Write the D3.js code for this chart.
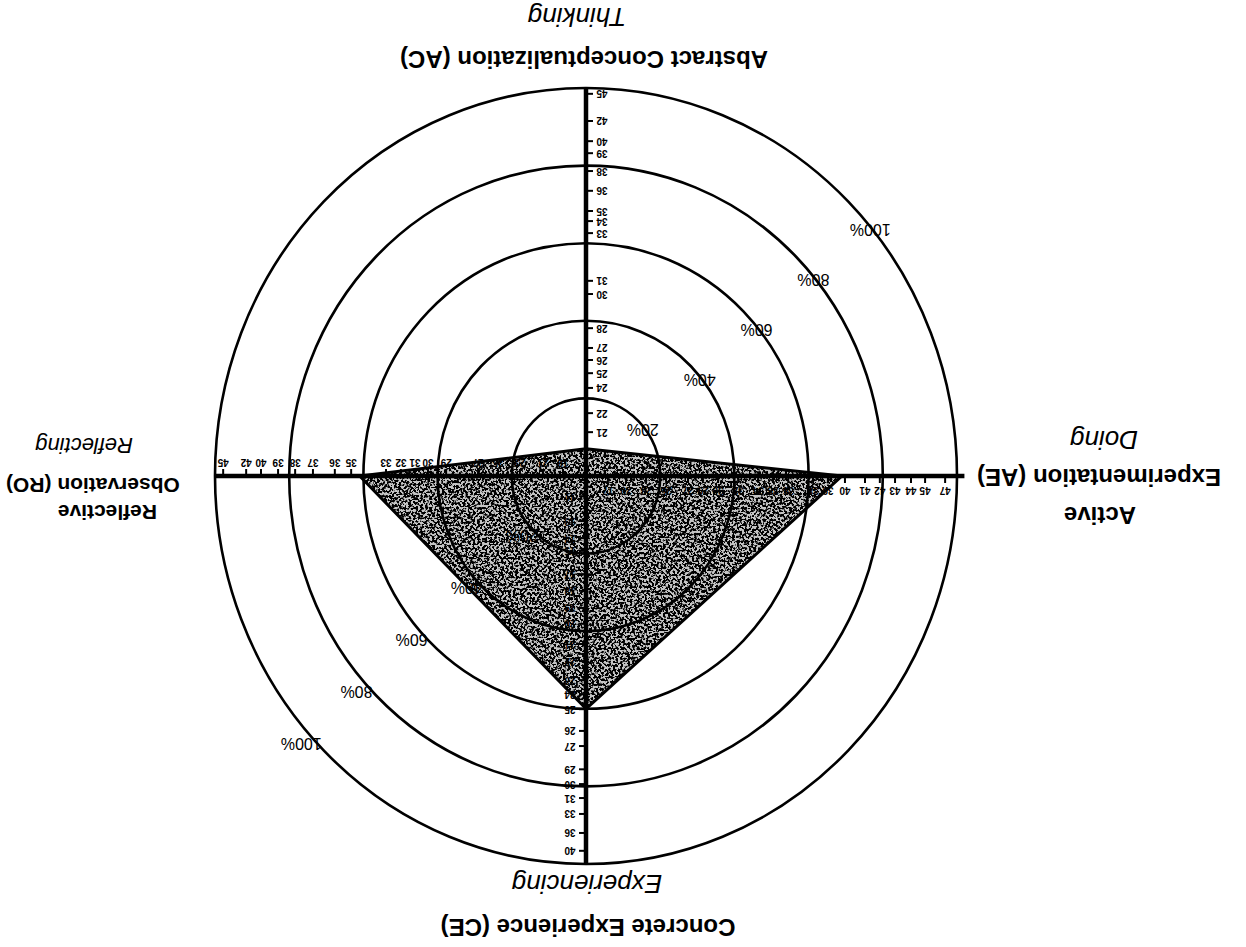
<!DOCTYPE html>
<html><head><meta charset="utf-8">
<script src="https://cdn.jsdelivr.net/npm/d3@7"></script>
<style>
html,body{margin:0;padding:0;background:#fff;}
svg{display:block;}
text{font-family:"Liberation Sans",Arial,sans-serif;fill:#000;}
</style></head>
<body>
<svg id="chart" width="1246" height="947"></svg>
<script>
// ---- data (percentile rings, axis tick scores with their percentile rank, learner profile) ----
const ringPcts = [20, 40, 60, 80, 100];
const ringLabels = ["20%", "40%", "60%", "80%", "100%"];

const axisNames = ["CE", "RO", "AC", "AE"];
const axisTitles = ["Concrete Experience (CE)", "Observation (RO)", "Abstract Conceptualization (AC)", "Experimentation (AE)"];
const axisModes = ["Experiencing", "Reflecting", "Thinking", "Doing"];

const ceTickVals = [11,13,14,15,17,18,19,20,21,22,23,24,25,26,27,29,30,31,33,36,40];
const ceTickPct  = [5.2,11.6,16.0,19.3,25.3,29.6,34.0,38.1,43.3,47.7,52.6,56.2,60.1,65.7,69.6,75.6,79.4,83.0,87.1,92.0,96.6];
const roTickVals = [18,21,23,25,27,29,30,31,32,33,35,36,37,38,39,40,42,45];
const roTickPct  = [6.2,11.6,17.8,23.7,29.1,37.7,42.6,46.1,49.9,53.9,63.3,67.7,73.6,78.4,83.0,87.6,91.6,97.8];
const acTickVals = [21,22,24,25,26,27,28,30,31,33,34,35,36,38,39,40,42,45];
const acTickPct  = [11.3,16.2,22.7,26.5,29.9,33.0,38.1,46.9,50.3,62.6,65.7,68.3,73.5,78.6,83.2,86.3,91.5,98.5];
const aeTickVals = [17,20,23,25,27,29,30,32,34,35,36,38,39,40,41,42,43,44,45,47];
const aeTickPct  = [5.9,10.8,16.2,21.6,27.5,31.5,35.6,41.0,46.4,50.4,54.5,61.2,65.2,69.8,75.2,79.2,83.3,87.6,91.4,96.8];

const profilePct = [60, 61, 7, 69]; // CE, RO, AC, AE

// ---- layout ----
const W = 1246, H = 947;
const cx = 660, cy = 471;
const sx = d3.scaleLinear().domain([0, 100]).range([0, 371]);
const sy = d3.scaleLinear().domain([0, 100]).range([0, 388]);
const dirs = {CE: [0, -1], RO: [1, 0], AC: [0, 1], AE: [-1, 0]};
const pt = (ax, p) => [cx + dirs[ax][0] * sx(p), cy + dirs[ax][1] * sy(p)];

const svg = d3.select("#chart");
svg.append("rect").attr("width", W).attr("height", H).attr("fill", "#fff");

const defs = svg.append("defs");
const f = defs.append("filter").attr("id", "speckle").attr("x", 0).attr("y", 0).attr("width", 1).attr("height", 1);
f.append("feTurbulence").attr("type", "fractalNoise").attr("baseFrequency", 0.42).attr("numOctaves", 2).attr("seed", 7).attr("result", "t");
f.append("feColorMatrix").attr("in", "t").attr("type", "matrix")
  .attr("values", "0 0 0 0 0  0 0 0 0 0  0 0 0 0 0  12 0 0 0 -5.4").attr("result", "a");
f.append("feComposite").attr("in", "a").attr("in2", "SourceGraphic").attr("operator", "in");

// whole chart is drawn upright, then turned upside down like the scan
const g = svg.append("g").attr("transform", `rotate(180, ${W / 2}, ${H / 2})`);

// profile polygon
const polyPts = axisNames.map((a, i) => pt(a, profilePct[i]));
const line = d3.line().curve(d3.curveLinearClosed);
g.append("path").attr("d", line(polyPts)).attr("fill", "#c4c4c4");
g.append("path").attr("d", line(polyPts)).attr("fill", "#000").attr("filter", "url(#speckle)");

// rings
g.selectAll("ellipse.ring").data(ringPcts).join("ellipse").attr("class", "ring")
  .attr("cx", cx).attr("cy", cy).attr("rx", d => sx(d)).attr("ry", d => sy(d))
  .attr("fill", "none").attr("stroke", "#000").attr("stroke-width", 2.6);

g.append("path").attr("d", line(polyPts)).attr("fill", "none").attr("stroke", "#000").attr("stroke-width", 3).attr("stroke-linejoin", "round");

// axes
g.append("line").attr("x1", cx - sx(102)).attr("x2", cx + sx(100)).attr("y1", cy).attr("y2", cy)
  .attr("stroke", "#000").attr("stroke-width", 4.5);
g.append("line").attr("x1", cx).attr("x2", cx).attr("y1", cy - sy(100)).attr("y2", cy + sy(100))
  .attr("stroke", "#000").attr("stroke-width", 4.5);

// ticks
const tickSets = [
  {ax: "CE", vals: ceTickVals, pct: ceTickPct, side: [1, 0]},
  {ax: "RO", vals: roTickVals, pct: roTickPct, side: [0, 1]},
  {ax: "AC", vals: acTickVals, pct: acTickPct, side: [-1, 0]},
  {ax: "AE", vals: aeTickVals, pct: aeTickPct, side: [0, -1]}
];
tickSets.forEach(ts => {
  const data = ts.vals.map((v, i) => ({v, p: ts.pct[i]}));
  const tg = g.append("g");
  tg.selectAll("line").data(data).join("line")
    .attr("x1", d => pt(ts.ax, d.p)[0]).attr("y1", d => pt(ts.ax, d.p)[1])
    .attr("x2", d => pt(ts.ax, d.p)[0] + ts.side[0] * 7).attr("y2", d => pt(ts.ax, d.p)[1] + ts.side[1] * 7)
    .attr("stroke", "#000").attr("stroke-width", 2);
  tg.selectAll("text").data(data).join("text")
    .attr("x", d => pt(ts.ax, d.p)[0] + ts.side[0] * 16)
    .attr("y", d => pt(ts.ax, d.p)[1] + ts.side[1] * 14)
    .attr("text-anchor", "middle").attr("dominant-baseline", "central")
    .attr("font-size", 10).attr("font-weight", "bold")
    .text(d => d.v);
});

// ring percentage labels (two diagonals)
const angA = 40 * Math.PI / 180, angB = 42 * Math.PI / 180;
g.selectAll("text.pa").data(ringPcts).join("text").attr("class", "pa")
  .attr("x", d => cx - sx(d) * Math.cos(angA))
  .attr("y", d => cy + sy(d) * Math.sin(angA) - 3)
  .attr("text-anchor", "middle").attr("dominant-baseline", "central").attr("font-size", 16)
  .text((d, i) => ringLabels[i]);
g.selectAll("text.pb").data(ringPcts).join("text").attr("class", "pb")
  .attr("x", d => cx + sx(d) * Math.cos(angB) + 9)
  .attr("y", d => cy - sy(d) * Math.sin(angB) - 8)
  .attr("text-anchor", "middle").attr("dominant-baseline", "central").attr("font-size", 16)
  .attr("fill", (d) => d === 60 ? "#8a8a8a" : "#000")
  .text((d, i) => ringLabels[i]);

// axis titles
const T = (x, y, txt, opt) => g.append("text").attr("x", x).attr("y", y)
  .attr("text-anchor", opt.anchor || "middle").attr("dominant-baseline", "central")
  .attr("font-size", opt.size).attr("font-weight", opt.bold ? "bold" : "normal")
  .attr("font-style", opt.italic ? "italic" : "normal").text(txt);

T(658, 20, axisTitles[0], {size: 24, bold: true});
T(659, 63, axisModes[0], {size: 26, italic: true});
T(662, 888, axisTitles[2], {size: 24, bold: true});
T(669, 930, axisModes[2], {size: 26, italic: true});
T(146, 432, "Active", {size: 24, bold: true});
T(147, 470, axisTitles[3], {size: 24, bold: true});
T(142, 507, axisModes[3], {size: 26, italic: true});
T(1089, 435, "Reflective", {size: 21, bold: true, anchor: "start"});
T(1240, 462, axisTitles[1], {size: 21, bold: true, anchor: "end"});
T(1113, 502, axisModes[1], {size: 22, italic: true, anchor: "start"});
</script>
</body></html>
